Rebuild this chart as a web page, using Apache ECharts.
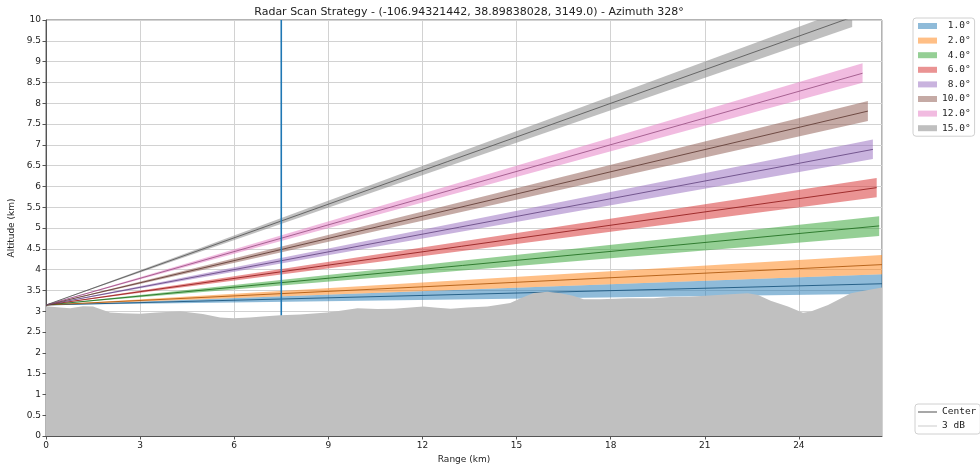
<!DOCTYPE html>
<html>
<head>
<meta charset="utf-8">
<script src="https://cdn.jsdelivr.net/npm/echarts@6/dist/echarts.min.js"></script>
<style>html,body{margin:0;padding:0;background:#fff}#c{width:980px;height:465px}</style>
</head>
<body>
<div id="c"></div>
<script>
// ---- data ----
const beamNames = ['1.0°','2.0°','4.0°','6.0°','8.0°','10.0°','12.0°','15.0°'];
const originAlt = 3.149;                 // km, radar altitude
const beamEndRange = [26.65, 26.65, 26.56, 26.48, 26.36, 26.2, 26.03, 25.7];
const beamCenterEnd = [3.66, 4.12, 5.05, 5.97, 6.89, 7.81, 8.72, 10.07];
const beamUpperEnd  = [3.89, 4.35, 5.28, 6.20, 7.13, 8.05, 8.96, 10.31];
const beamLowerEnd  = [3.42, 3.89, 4.81, 5.74, 6.66, 7.57, 8.49, 9.83];

const terrainRange = [0, 0.45, 0.77, 1.18, 1.5, 2.04, 2.46, 3.0, 3.54, 4.28, 4.6, 5.0, 5.55, 5.97, 6.5, 6.9,
  7.47, 8.1, 8.97, 9.38, 9.93, 10.56, 11.08, 11.62, 12.03, 12.48, 12.9, 13.44, 14.07, 14.8, 15.13,
  15.55, 15.99, 16.4, 16.8, 17.14, 17.68, 18.54, 19.37, 19.9, 20.5, 21.4, 22.37, 22.7, 23.1, 23.65,
  24.13, 24.38, 24.93, 25.66, 26.08, 26.65];
const terrainAlt = [3.12, 3.09, 3.07, 3.12, 3.11, 2.97, 2.95, 2.94, 2.97, 3.0, 2.97, 2.93, 2.85, 2.83, 2.85, 2.87,
  2.9, 2.92, 2.97, 3.01, 3.07, 3.05, 3.06, 3.09, 3.11, 3.08, 3.06, 3.09, 3.11, 3.2, 3.31,
  3.44, 3.47, 3.43, 3.37, 3.29, 3.29, 3.31, 3.31, 3.34, 3.35, 3.39, 3.43, 3.39, 3.25, 3.11,
  2.96, 2.99, 3.15, 3.43, 3.49, 3.57];

const markerRange = 7.5;
const markerAlt = [2.85, 10];

const xMax = 26.65, yMax = 10;
const xTickInterval = 3, yTickInterval = 0.5;

// ---- styling ----
const baseColors = ['#1f77b4','#ff7f0e','#2ca02c','#d62728','#9467bd','#8c564b','#e377c2','#7f7f7f'];
function rgba(hex, a){const n=parseInt(hex.slice(1),16);return `rgba(${n>>16&255},${n>>8&255},${n&255},${a})`;}
function darken(hex, f){const n=parseInt(hex.slice(1),16);const r=Math.round((n>>16&255)*f),g=Math.round((n>>8&255)*f),b=Math.round((n&255)*f);return `rgb(${r},${g},${b})`;}

const series = [];
beamNames.forEach((name, i) => {
  series.push({
    name: name,
    type: 'custom',
    clip: true,
    z: 2,
    itemStyle: { color: rgba(baseColors[i], 0.5) },
    encode: { x: [0, 2], y: [1, 3, 4] },
    data: [[0, originAlt, beamEndRange[i], beamUpperEnd[i], beamLowerEnd[i]]],
    renderItem: function (params, api) {
      const p0 = api.coord([api.value(0), api.value(1)]);
      const p1 = api.coord([api.value(2), api.value(3)]);
      const p2 = api.coord([api.value(2), api.value(4)]);
      return { type: 'polygon', shape: { points: [p0, p1, p2] },
               style: { fill: rgba(baseColors[i], 0.5), stroke: null } };
    },
    silent: true
  });
});
beamNames.forEach((name, i) => {
  series.push({
    name: 'center ' + name,
    type: 'line', z: 3, symbol: 'none', silent: true,
    lineStyle: { color: darken(baseColors[i], 0.68), width: 1, opacity: 0.85 },
    data: [[0, originAlt], [beamEndRange[i], beamCenterEnd[i]]]
  });
});
series.push({
  name: 'marker', type: 'line', z: 4, symbol: 'none', silent: true,
  lineStyle: { color: '#1f77b4', width: 1.6 },
  data: [[markerRange, markerAlt[0]], [markerRange, markerAlt[1]]]
});
series.push({
  name: 'terrain', type: 'line', z: 5, symbol: 'none', silent: true,
  lineStyle: { width: 0 },
  areaStyle: { color: '#c0c0c0', opacity: 1, origin: 'start' },
  itemStyle: { color: '#c0c0c0' },
  data: terrainRange.map((r, k) => [r, terrainAlt[k]])
});
series.push({ name: 'Center', type: 'line', symbol: 'none', itemStyle:{color:'#8a8a8a'}, lineStyle:{color:'#8a8a8a'}, data: [] });
series.push({ name: '3 dB', type: 'line', symbol: 'none', itemStyle:{color:'#dcdcdc'}, lineStyle:{color:'#dcdcdc'}, data: [] });

const axisText = { color: '#222', fontSize: 9, fontFamily: 'DejaVu Sans' };

const option = {
  animation: false,
  backgroundColor: '#fff',
  title: {
    text: 'Radar Scan Strategy - (-106.94321442, 38.89838028, 3149.0) - Azimuth 328°',
    left: 464, top: 2, textAlign: 'center',
    textStyle: { fontSize: 11, fontWeight: 'normal', color: '#222', fontFamily: 'DejaVu Sans' }
  },
  grid: { left: 46, right: 98, top: 20, bottom: 29, show: true, borderColor: '#666', borderWidth: 1,
          backgroundColor: 'transparent', containLabel: false, outerBoundsMode: 'none' },
  legend: [
    {
      data: beamNames, orient: 'vertical', left: 913, top: 18,
      icon: 'rect', itemWidth: 19, itemHeight: 6, itemGap: 4.6,
      padding: [3, 4, 3, 5], borderColor: '#d0d0d0', borderWidth: 1, borderRadius: 3, backgroundColor: '#fff',
      formatter: n => n.padStart(5, ' '),
      textStyle: { fontFamily: 'DejaVu Sans Mono', fontSize: 9.5, color: '#222', lineHeight: 10 },
      selectedMode: false
    },
    {
      data: ['Center', '3 dB'], orient: 'vertical', left: 915, top: 404,
      icon: 'rect', itemWidth: 19, itemHeight: 1.5, itemGap: 4,
      padding: [3, 4, 3, 3], borderColor: '#d0d0d0', borderWidth: 1, borderRadius: 3, backgroundColor: '#fff',
      textStyle: { fontFamily: 'DejaVu Sans Mono', fontSize: 9.5, color: '#222', lineHeight: 10 },
      selectedMode: false
    }
  ],
  xAxis: {
    type: 'value', min: 0, max: xMax, interval: xTickInterval,
    name: 'Range (km)', nameLocation: 'middle', nameGap: 18,
    nameTextStyle: { color: '#222', fontSize: 9, fontFamily: 'DejaVu Sans' },
    axisLine: { show: true, onZero: false, lineStyle: { color: '#555', width: 1 } },
    axisTick: { show: true, length: 3.5, lineStyle: { color: '#555' } },
    axisLabel: Object.assign({ margin: 5, showMaxLabel: false }, axisText),
    splitLine: { show: true, lineStyle: { color: '#d2d2d2', width: 1 } }
  },
  yAxis: {
    type: 'value', min: 0, max: yMax, interval: yTickInterval,
    name: 'Altitude (km)', nameLocation: 'middle', nameGap: 27, nameRotate: 90,
    nameTextStyle: { color: '#222', fontSize: 9, fontFamily: 'DejaVu Sans' },
    axisLine: { show: true, onZero: false, lineStyle: { color: '#555', width: 1 } },
    axisTick: { show: true, length: 3.5, lineStyle: { color: '#555' } },
    axisLabel: Object.assign({ margin: 5 }, axisText),
    splitLine: { show: true, lineStyle: { color: '#d2d2d2', width: 1 } }
  },
  series: series
};

const chart = echarts.init(document.getElementById('c'), null, { renderer: 'canvas' });
chart.setOption(option);
</script>
</body>
</html>
